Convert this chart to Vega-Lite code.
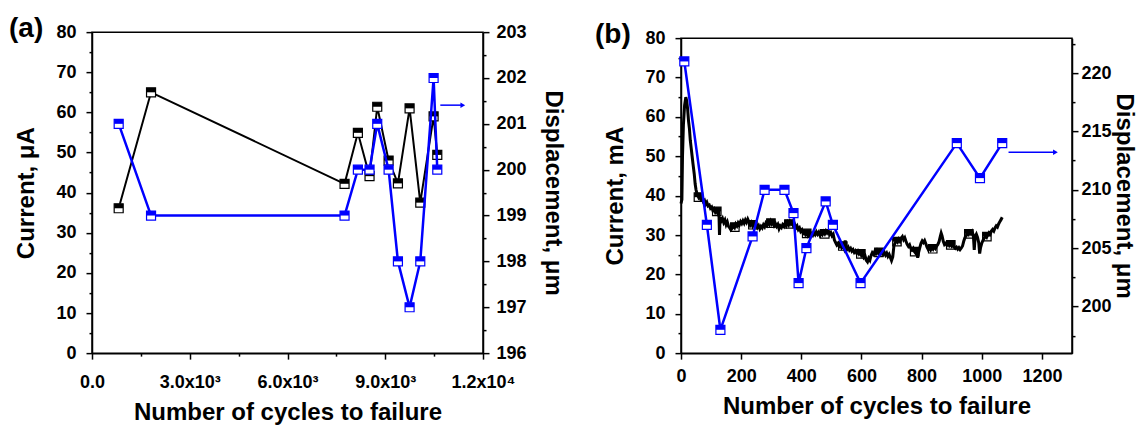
{
  "$schema": "https://vega.github.io/schema/vega-lite/v6.json",
  "padding": {"left": 8, "top": 14, "right": 0, "bottom": 0},
  "autosize": {"type": "pad"},
  "background": "white",
  "config": {
    "font": "Liberation Sans",
    "view": {"stroke": "black", "strokeWidth": 1.5},
    "axis": {
      "labelFont": "Liberation Sans", "labelFontSize": 18, "labelFontWeight": "bold", "labelColor": "black",
      "titleFont": "Liberation Sans", "titleFontSize": 24, "titleFontWeight": "bold", "titleColor": "black",
      "domainColor": "black", "domainWidth": 1.5, "tickColor": "black", "tickWidth": 1.5,
      "grid": false, "labelOverlap": false, "labelFlush": false
    },
    "title": {"font": "Liberation Sans", "fontSize": 28, "fontWeight": "bold", "color": "black", "anchor": "start", "frame": "bounds", "baseline": "bottom"}
  },
  "datasets": {
    "a_cur": [
      {"cycles": 819, "current": 36.1}, {"cycles": 1812, "current": 65.0}, {"cycles": 7751, "current": 42.2},
      {"cycles": 8160, "current": 54.9}, {"cycles": 8518, "current": 44.1}, {"cycles": 8754, "current": 61.4},
      {"cycles": 9103, "current": 48.0}, {"cycles": 9389, "current": 42.3}, {"cycles": 9747, "current": 61.0},
      {"cycles": 10075, "current": 37.5}, {"cycles": 10484, "current": 59.0}, {"cycles": 10597, "current": 49.4}
    ],
    "a_disp": [
      {"cycles": 819, "displacement": 201}, {"cycles": 1812, "displacement": 199}, {"cycles": 7751, "displacement": 199},
      {"cycles": 8160, "displacement": 200}, {"cycles": 8518, "displacement": 200}, {"cycles": 8754, "displacement": 201},
      {"cycles": 9103, "displacement": 200}, {"cycles": 9389, "displacement": 198}, {"cycles": 9747, "displacement": 197},
      {"cycles": 10075, "displacement": 198}, {"cycles": 10484, "displacement": 202}, {"cycles": 10597, "displacement": 200}
    ],
    "a_arrow": [{"cycles": 10690, "cycles_end": 11380, "current": 61.8}],
    "b_arrow": [{"cycles": 1089, "cycles_end": 1245, "current": 51.0}],
    "b_disp": [
      {"cycles": 11, "displacement": 221}, {"cycles": 86, "displacement": 207}, {"cycles": 131, "displacement": 198},
      {"cycles": 238, "displacement": 206}, {"cycles": 278, "displacement": 210}, {"cycles": 344, "displacement": 210},
      {"cycles": 374, "displacement": 208}, {"cycles": 391, "displacement": 202}, {"cycles": 417, "displacement": 205},
      {"cycles": 481, "displacement": 209}, {"cycles": 505, "displacement": 207}, {"cycles": 597, "displacement": 202},
      {"cycles": 917, "displacement": 214}, {"cycles": 994, "displacement": 211}, {"cycles": 1068, "displacement": 214}
    ],
    "b_cur_mk": [
      {"cycles": 58, "current": 39.6}, {"cycles": 119, "current": 36.0}, {"cycles": 179, "current": 32.0},
      {"cycles": 239, "current": 32.6}, {"cycles": 299, "current": 33.0}, {"cycles": 359, "current": 32.8},
      {"cycles": 418, "current": 30.4}, {"cycles": 478, "current": 30.3}, {"cycles": 538, "current": 27.2},
      {"cycles": 598, "current": 25.2}, {"cycles": 658, "current": 25.6}, {"cycles": 718, "current": 28.3},
      {"cycles": 777, "current": 25.8}, {"cycles": 837, "current": 26.5}, {"cycles": 897, "current": 27.5},
      {"cycles": 957, "current": 30.3}, {"cycles": 1017, "current": 29.6}
    ],
    "b_cur": [
      {"cycles": 0, "current": 38}, {"cycles": 3, "current": 39}, {"cycles": 5, "current": 50}, {"cycles": 8, "current": 58},
      {"cycles": 12, "current": 63}, {"cycles": 16, "current": 65}, {"cycles": 19, "current": 64}, {"cycles": 22, "current": 62},
      {"cycles": 25, "current": 59}, {"cycles": 28, "current": 57}, {"cycles": 31, "current": 54}, {"cycles": 34, "current": 52},
      {"cycles": 37, "current": 50}, {"cycles": 40, "current": 48}, {"cycles": 44, "current": 45.5}, {"cycles": 47, "current": 43},
      {"cycles": 50, "current": 41.5}, {"cycles": 53, "current": 40.5}, {"cycles": 56, "current": 40}, {"cycles": 59, "current": 39.5},
      {"cycles": 62, "current": 39.8}, {"cycles": 66, "current": 39}, {"cycles": 70, "current": 39.3}, {"cycles": 74, "current": 38.5},
      {"cycles": 78, "current": 38.8}, {"cycles": 82, "current": 37.8}, {"cycles": 86, "current": 38.3}, {"cycles": 90, "current": 37.4},
      {"cycles": 94, "current": 37.6}, {"cycles": 98, "current": 36.8}, {"cycles": 102, "current": 37.1}, {"cycles": 106, "current": 36.2},
      {"cycles": 110, "current": 36.6}, {"cycles": 114, "current": 35.8}, {"cycles": 118, "current": 36.3}, {"cycles": 122, "current": 35.5},
      {"cycles": 126, "current": 35.9}, {"cycles": 128, "current": 30}, {"cycles": 130, "current": 34.5}, {"cycles": 134, "current": 33.6},
      {"cycles": 138, "current": 34.2}, {"cycles": 142, "current": 33.2}, {"cycles": 146, "current": 33.8}, {"cycles": 150, "current": 32.6},
      {"cycles": 154, "current": 33.3}, {"cycles": 158, "current": 32.2}, {"cycles": 162, "current": 31.8}, {"cycles": 166, "current": 31.3},
      {"cycles": 170, "current": 31.7}, {"cycles": 174, "current": 32.3}, {"cycles": 178, "current": 31.9}, {"cycles": 182, "current": 32.8},
      {"cycles": 186, "current": 32.3}, {"cycles": 190, "current": 33.1}, {"cycles": 194, "current": 32.6}, {"cycles": 198, "current": 33.4},
      {"cycles": 202, "current": 32.9}, {"cycles": 206, "current": 33.6}, {"cycles": 210, "current": 33}, {"cycles": 214, "current": 33.8},
      {"cycles": 218, "current": 33.2}, {"cycles": 222, "current": 34}, {"cycles": 226, "current": 33.3}, {"cycles": 230, "current": 32.5},
      {"cycles": 234, "current": 33.1}, {"cycles": 238, "current": 32.3}, {"cycles": 242, "current": 32.9}, {"cycles": 246, "current": 32.1},
      {"cycles": 250, "current": 32.6}, {"cycles": 254, "current": 31.9}, {"cycles": 258, "current": 32.4}, {"cycles": 262, "current": 31.6},
      {"cycles": 266, "current": 32.2}, {"cycles": 270, "current": 31.8}, {"cycles": 274, "current": 32.6}, {"cycles": 278, "current": 32.1},
      {"cycles": 282, "current": 33}, {"cycles": 286, "current": 32.5}, {"cycles": 290, "current": 33.3}, {"cycles": 294, "current": 32.7},
      {"cycles": 298, "current": 33.5}, {"cycles": 302, "current": 32.8}, {"cycles": 306, "current": 33.2}, {"cycles": 310, "current": 32.4},
      {"cycles": 314, "current": 32.9}, {"cycles": 318, "current": 32.2}, {"cycles": 322, "current": 32.7}, {"cycles": 326, "current": 31.6},
      {"cycles": 330, "current": 32.3}, {"cycles": 334, "current": 31.9}, {"cycles": 338, "current": 32.6}, {"cycles": 342, "current": 32.2},
      {"cycles": 346, "current": 33}, {"cycles": 350, "current": 32.4}, {"cycles": 354, "current": 33.2}, {"cycles": 358, "current": 32.6},
      {"cycles": 362, "current": 33.4}, {"cycles": 366, "current": 32.8}, {"cycles": 370, "current": 33.2}, {"cycles": 374, "current": 32.3},
      {"cycles": 378, "current": 32.7}, {"cycles": 382, "current": 31.8}, {"cycles": 386, "current": 32.3}, {"cycles": 390, "current": 31.4},
      {"cycles": 394, "current": 31.8}, {"cycles": 398, "current": 30.9}, {"cycles": 402, "current": 31.3}, {"cycles": 406, "current": 30.4},
      {"cycles": 410, "current": 30.8}, {"cycles": 414, "current": 30.1}, {"cycles": 418, "current": 30.5}, {"cycles": 422, "current": 29.8},
      {"cycles": 426, "current": 30.2}, {"cycles": 430, "current": 29.6}, {"cycles": 434, "current": 30.3}, {"cycles": 438, "current": 29.9},
      {"cycles": 442, "current": 30.6}, {"cycles": 446, "current": 30.1}, {"cycles": 450, "current": 30.8}, {"cycles": 454, "current": 30.2},
      {"cycles": 458, "current": 30.7}, {"cycles": 462, "current": 29.9}, {"cycles": 466, "current": 30.5}, {"cycles": 470, "current": 30.1},
      {"cycles": 474, "current": 30.8}, {"cycles": 478, "current": 30.3}, {"cycles": 482, "current": 31}, {"cycles": 486, "current": 30.5},
      {"cycles": 490, "current": 30.9}, {"cycles": 494, "current": 30.2}, {"cycles": 498, "current": 30.6}, {"cycles": 502, "current": 29.8},
      {"cycles": 506, "current": 30.2}, {"cycles": 510, "current": 28.7}, {"cycles": 514, "current": 28.1}, {"cycles": 518, "current": 27.5},
      {"cycles": 522, "current": 27.9}, {"cycles": 526, "current": 27.1}, {"cycles": 530, "current": 27.5}, {"cycles": 534, "current": 26.8},
      {"cycles": 538, "current": 27.3}, {"cycles": 542, "current": 26.6}, {"cycles": 546, "current": 28.6}, {"cycles": 548, "current": 27},
      {"cycles": 552, "current": 26.4}, {"cycles": 556, "current": 26.9}, {"cycles": 560, "current": 26.2}, {"cycles": 564, "current": 26.6},
      {"cycles": 568, "current": 25.9}, {"cycles": 572, "current": 26.3}, {"cycles": 576, "current": 25.6}, {"cycles": 580, "current": 26},
      {"cycles": 584, "current": 25.4}, {"cycles": 588, "current": 25.9}, {"cycles": 592, "current": 25.2}, {"cycles": 596, "current": 25.6},
      {"cycles": 600, "current": 24.8}, {"cycles": 604, "current": 25.2}, {"cycles": 608, "current": 24.3}, {"cycles": 612, "current": 24.7},
      {"cycles": 616, "current": 23.6}, {"cycles": 620, "current": 23.2}, {"cycles": 624, "current": 24.1}, {"cycles": 628, "current": 23.6},
      {"cycles": 632, "current": 24.8}, {"cycles": 636, "current": 25.5}, {"cycles": 640, "current": 25.1}, {"cycles": 644, "current": 25.8},
      {"cycles": 648, "current": 25.3}, {"cycles": 652, "current": 26}, {"cycles": 656, "current": 25.4}, {"cycles": 660, "current": 25.9},
      {"cycles": 664, "current": 25.2}, {"cycles": 668, "current": 25.7}, {"cycles": 672, "current": 25.1}, {"cycles": 676, "current": 25.6},
      {"cycles": 680, "current": 24.9}, {"cycles": 684, "current": 25.4}, {"cycles": 688, "current": 24.6}, {"cycles": 692, "current": 25.1},
      {"cycles": 696, "current": 24.3}, {"cycles": 700, "current": 23.5}, {"cycles": 704, "current": 24.4}, {"cycles": 708, "current": 27.3},
      {"cycles": 712, "current": 28}, {"cycles": 716, "current": 28.6}, {"cycles": 720, "current": 28.2}, {"cycles": 724, "current": 28.9},
      {"cycles": 728, "current": 28.4}, {"cycles": 732, "current": 29.2}, {"cycles": 736, "current": 29.6}, {"cycles": 740, "current": 28.8},
      {"cycles": 744, "current": 29.3}, {"cycles": 748, "current": 28.4}, {"cycles": 752, "current": 27.6}, {"cycles": 756, "current": 27.1},
      {"cycles": 760, "current": 27.5}, {"cycles": 764, "current": 26.6}, {"cycles": 768, "current": 26.2}, {"cycles": 772, "current": 26.6},
      {"cycles": 776, "current": 25.8}, {"cycles": 780, "current": 25.4}, {"cycles": 784, "current": 25.9}, {"cycles": 787, "current": 24.2},
      {"cycles": 790, "current": 25.6}, {"cycles": 794, "current": 26.8}, {"cycles": 798, "current": 27.9}, {"cycles": 802, "current": 28.5},
      {"cycles": 806, "current": 28.1}, {"cycles": 810, "current": 28.6}, {"cycles": 814, "current": 27.8}, {"cycles": 818, "current": 26.9},
      {"cycles": 822, "current": 26.3}, {"cycles": 826, "current": 26.7}, {"cycles": 830, "current": 26.2}, {"cycles": 834, "current": 26.8},
      {"cycles": 838, "current": 26.4}, {"cycles": 842, "current": 27}, {"cycles": 846, "current": 26.6}, {"cycles": 850, "current": 27.2},
      {"cycles": 854, "current": 27.6}, {"cycles": 858, "current": 28.3}, {"cycles": 862, "current": 29.6}, {"cycles": 865, "current": 30.5},
      {"cycles": 868, "current": 29.8}, {"cycles": 872, "current": 28.4}, {"cycles": 876, "current": 27.6}, {"cycles": 880, "current": 27.9},
      {"cycles": 884, "current": 27.4}, {"cycles": 888, "current": 27.8}, {"cycles": 892, "current": 27.3}, {"cycles": 896, "current": 27.7},
      {"cycles": 900, "current": 27.2}, {"cycles": 904, "current": 27.6}, {"cycles": 908, "current": 26.9}, {"cycles": 912, "current": 26.6},
      {"cycles": 916, "current": 26.9}, {"cycles": 920, "current": 26.4}, {"cycles": 924, "current": 26.8}, {"cycles": 928, "current": 26.3},
      {"cycles": 932, "current": 26.7}, {"cycles": 936, "current": 27.2}, {"cycles": 940, "current": 28.4}, {"cycles": 944, "current": 29.3},
      {"cycles": 948, "current": 29.8}, {"cycles": 952, "current": 30.4}, {"cycles": 956, "current": 30.1}, {"cycles": 960, "current": 30.7},
      {"cycles": 964, "current": 30.3}, {"cycles": 968, "current": 30.8}, {"cycles": 972, "current": 29.9}, {"cycles": 975, "current": 26.2},
      {"cycles": 978, "current": 29.6}, {"cycles": 982, "current": 30.2}, {"cycles": 986, "current": 29.4}, {"cycles": 990, "current": 28},
      {"cycles": 993, "current": 25.3}, {"cycles": 996, "current": 26.8}, {"cycles": 1000, "current": 27.9}, {"cycles": 1004, "current": 28.6},
      {"cycles": 1008, "current": 29.2}, {"cycles": 1012, "current": 29.7}, {"cycles": 1016, "current": 29.4}, {"cycles": 1020, "current": 30.1},
      {"cycles": 1024, "current": 30.6}, {"cycles": 1028, "current": 30.3}, {"cycles": 1032, "current": 31}, {"cycles": 1036, "current": 31.4},
      {"cycles": 1040, "current": 31}, {"cycles": 1044, "current": 31.8}, {"cycles": 1048, "current": 32.3}, {"cycles": 1052, "current": 32},
      {"cycles": 1056, "current": 32.8}, {"cycles": 1060, "current": 33.4}, {"cycles": 1064, "current": 33.9}, {"cycles": 1068, "current": 34.5}
    ]
  },
  "spacing": 29,
  "columns": 2,
  "center": true,
  "concat": [
    {
      "width": 391,
      "height": 321,
      "title": {"text": "(a)", "offset": -20, "dx": -6},
      "layer": [
        {
          "encoding": {
            "x": {"field": "cycles", "type": "quantitative",
              "scale": {"domain": [0, 12000], "nice": false, "zero": false},
              "axis": {"title": "Number of cycles to failure",
                "values": [0, 1500, 3000, 4500, 6000, 7500, 9000, 10500, 12000],
                "labelExpr": "datum.value % 3000 !== 0 ? '' : datum.value === 0 ? '0.0' : datum.value < 10000 ? format(datum.value / 1000, '.1f') + 'x10³' : format(datum.value / 10000, '.1f') + 'x10⁴'",
                "tickSize": {"condition": {"test": "datum.value % 3000 === 0", "value": 6}, "value": 3},
                "labelPadding": 14, "titlePadding": 9}},
            "y": {"field": "current", "type": "quantitative",
              "scale": {"domain": [0, 80], "nice": false, "zero": false},
              "axis": {"title": "Current, μA", "orient": "left",
                "values": [0, 5, 10, 15, 20, 25, 30, 35, 40, 45, 50, 55, 60, 65, 70, 75, 80],
                "labelExpr": "datum.value % 10 === 0 ? format(datum.value, 'd') : ''",
                "tickSize": {"condition": {"test": "datum.value % 10 === 0", "value": 6}, "value": 3},
                "labelPadding": 10, "titlePadding": 17}}
          },
          "layer": [
            {"data": {"name": "a_cur"}, "mark": {"type": "line", "color": "black", "strokeWidth": 2}},
            {"data": {"name": "a_cur"}, "mark": {"type": "point", "shape": "square", "filled": true, "fill": "white", "stroke": "black", "strokeWidth": 1.2, "size": 81, "opacity": 1}},
            {"data": {"name": "a_cur"}, "mark": {"type": "point", "shape": "M-1,-1H1V0H-1Z", "filled": true, "color": "black", "size": 81, "opacity": 1}},
            {"data": {"name": "a_arrow"}, "mark": {"type": "rule", "color": "#0000ff", "strokeWidth": 1.5}, "encoding": {"x2": {"field": "cycles_end"}}},
            {"data": {"name": "a_arrow"}, "mark": {"type": "point", "shape": "triangle-right", "filled": true, "color": "#0000ff", "size": 30, "opacity": 1}, "encoding": {"x": {"field": "cycles_end", "type": "quantitative"}}}
          ]
        },
        {
          "data": {"name": "a_disp"},
          "encoding": {
            "x": {"field": "cycles", "type": "quantitative"},
            "y": {"field": "displacement", "type": "quantitative",
              "scale": {"domain": [196, 203], "nice": false, "zero": false},
              "axis": {"title": "Displacement, μm", "orient": "right",
                "values": [196, 196.5, 197, 197.5, 198, 198.5, 199, 199.5, 200, 200.5, 201, 201.5, 202, 202.5, 203],
                "labelExpr": "datum.value % 1 === 0 ? format(datum.value, 'd') : ''",
                "tickSize": {"condition": {"test": "datum.value % 1 === 0", "value": 6}, "value": 3},
                "labelPadding": 7, "titlePadding": 14}}
          },
          "layer": [
            {"mark": {"type": "line", "color": "#0000ff", "strokeWidth": 2.5}},
            {"mark": {"type": "point", "shape": "square", "filled": true, "fill": "white", "stroke": "#0000ff", "strokeWidth": 1.2, "size": 81, "opacity": 1}},
            {"mark": {"type": "point", "shape": "M-1,-1H1V0H-1Z", "filled": true, "color": "#0000ff", "size": 81, "opacity": 1}}
          ]
        }
      ],
      "resolve": {"scale": {"y": "independent"}}
    },
    {
      "width": 391,
      "height": 315,
      "title": {"text": "(b)", "offset": -20, "dx": -9},
      "layer": [
        {
          "encoding": {
            "x": {"field": "cycles", "type": "quantitative",
              "scale": {"domain": [0, 1300], "nice": false, "zero": false},
              "axis": {"title": "Number of cycles to failure",
                "values": [0, 100, 200, 300, 400, 500, 600, 700, 800, 900, 1000, 1100, 1200, 1300],
                "labelExpr": "datum.value % 200 === 0 ? format(datum.value, 'd') : ''",
                "tickSize": {"condition": {"test": "datum.value % 200 === 0", "value": 6}, "value": 3},
                "labelPadding": 8, "titlePadding": 9}},
            "y": {"field": "current", "type": "quantitative",
              "scale": {"domain": [0, 80], "nice": false, "zero": false},
              "axis": {"title": "Current, mA", "orient": "left",
                "values": [0, 5, 10, 15, 20, 25, 30, 35, 40, 45, 50, 55, 60, 65, 70, 75, 80],
                "labelExpr": "datum.value % 10 === 0 ? format(datum.value, 'd') : ''",
                "tickSize": {"condition": {"test": "datum.value % 10 === 0", "value": 6}, "value": 3},
                "labelPadding": 10, "titlePadding": 17}}
          },
          "layer": [
            {"data": {"name": "b_cur_mk"}, "mark": {"type": "point", "shape": "square", "filled": true, "fill": "white", "stroke": "black", "strokeWidth": 1.2, "size": 72, "opacity": 1}},
            {"data": {"name": "b_cur_mk"}, "mark": {"type": "point", "shape": "M-1,-1H1V0H-1Z", "filled": true, "color": "black", "size": 72, "opacity": 1}},
            {"data": {"name": "b_cur"}, "mark": {"type": "line", "color": "black", "strokeWidth": 3}},
            {"data": {"name": "b_arrow"}, "mark": {"type": "rule", "color": "#0000ff", "strokeWidth": 1.5}, "encoding": {"x2": {"field": "cycles_end"}}},
            {"data": {"name": "b_arrow"}, "mark": {"type": "point", "shape": "triangle-right", "filled": true, "color": "#0000ff", "size": 30, "opacity": 1}, "encoding": {"x": {"field": "cycles_end", "type": "quantitative"}}}
          ]
        },
        {
          "data": {"name": "b_disp"},
          "encoding": {
            "x": {"field": "cycles", "type": "quantitative"},
            "y": {"field": "displacement", "type": "quantitative",
              "scale": {"domain": [196, 223], "nice": false, "zero": false},
              "axis": {"title": "Displacement, μm", "orient": "right",
                "values": [197.5, 200, 202.5, 205, 207.5, 210, 212.5, 215, 217.5, 220, 222.5],
                "labelExpr": "datum.value % 5 === 0 ? format(datum.value, 'd') : ''",
                "tickSize": {"condition": {"test": "datum.value % 5 === 0", "value": 6}, "value": 3},
                "labelPadding": 3, "titlePadding": 0}}
          },
          "layer": [
            {"mark": {"type": "line", "color": "#0000ff", "strokeWidth": 2.5}},
            {"mark": {"type": "point", "shape": "square", "filled": true, "fill": "white", "stroke": "#0000ff", "strokeWidth": 1.2, "size": 81, "opacity": 1}},
            {"mark": {"type": "point", "shape": "M-1,-1H1V0H-1Z", "filled": true, "color": "#0000ff", "size": 81, "opacity": 1}}
          ]
        }
      ],
      "resolve": {"scale": {"y": "independent"}}
    }
  ]
}
